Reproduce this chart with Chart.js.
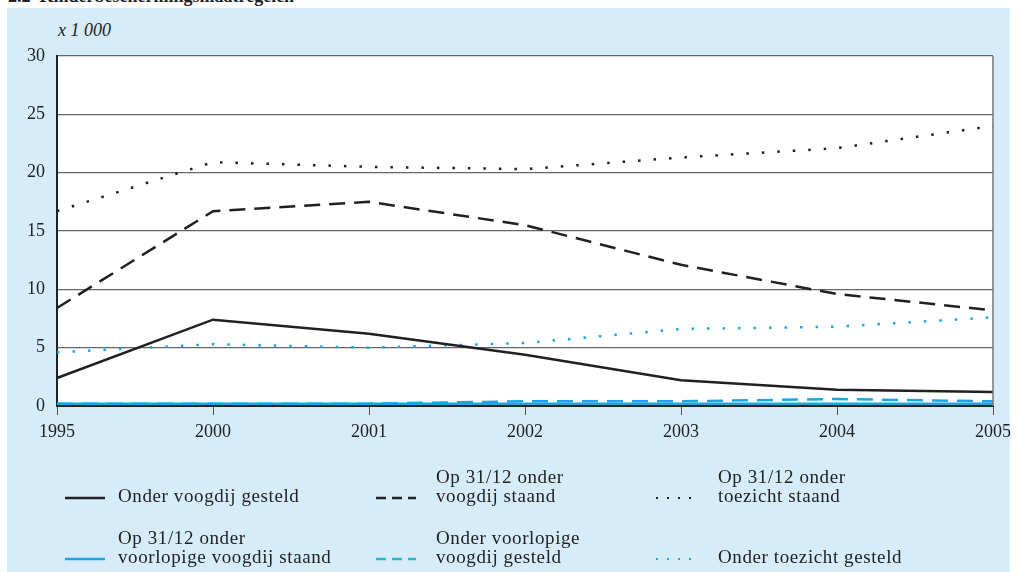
<!DOCTYPE html>
<html>
<head>
<meta charset="utf-8">
<script src="https://cdn.jsdelivr.net/npm/chart.js@4/dist/chart.umd.min.js"></script>
<style>
  html, body { margin: 0; padding: 0; background: #fff; }
  #wrap { position: relative; width: 1017px; height: 572px; overflow: hidden; font-family: "Liberation Serif", serif; color: #222; }
  #panel { position: absolute; left: 7px; top: 8px; width: 1003px; height: 564px; background: #d6ecf9; }
  #title { position: absolute; left: 8px; top: -14px; font-size: 18px; font-weight: bold; white-space: nowrap; }
  #unit { position: absolute; left: 58px; top: 20px; font-size: 18px; font-style: italic; }
  #chartBox { position: absolute; left: 0; top: 0; width: 1017px; height: 445px; }
  .leg { position: absolute; left: 0; top: 0; width: 1017px; height: 572px; font-size: 19px; line-height: 19px; letter-spacing: 0.6px; }
  .leg .txt { position: absolute; white-space: nowrap; }
  .leg canvas { position: absolute; }
</style>
</head>
<body>
<div id="wrap">
  <div id="panel"></div>
  <div id="title">2.2&nbsp;&nbsp;Kinderbeschermingsmaatregelen</div>
  <div id="unit">x 1 000</div>
  <div id="chartBox"><canvas id="chart"></canvas></div>
  <div id="legend"></div>
</div>
<script>
const years = ["1995", "2000", "2001", "2002", "2003", "2004", "2005"];

const onderVoogdijGesteld = [2.4, 7.4, 6.2, 4.4, 2.2, 1.4, 1.2];
const voogdijStaand = [8.4, 16.7, 17.5, 15.5, 12.1, 9.6, 8.2];
const toezichtStaand = [16.7, 20.9, 20.5, 20.3, 21.3, 22.1, 24.0];
const voorlopigeVoogdijStaand = [0.2, 0.2, 0.2, 0.2, 0.2, 0.2, 0.2];
const voorlopigeVoogdijGesteld = [0.2, 0.2, 0.2, 0.4, 0.4, 0.6, 0.4];
const onderToezichtGesteld = [4.6, 5.3, 5.0, 5.4, 6.6, 6.8, 7.6];

const yTicks = [0, 5, 10, 15, 20, 25, 30];

const black = "#231f20";
const blue = "#16a8e6";
const teal = "#2bb6c9";

const series = [
  { label: ["Onder voogdij gesteld"], data: onderVoogdijGesteld, color: black, dash: [], width: 2.5, legendColor: black },
  { label: ["Op 31/12 onder", "voogdij staand"], data: voogdijStaand, color: black, dash: [16, 9], width: 2.5, legendColor: black },
  { label: ["Op 31/12 onder", "toezicht staand"], data: toezichtStaand, color: black, dash: [2.5, 13], width: 2.5, legendColor: black },
  { label: ["Op 31/12 onder", "voorlopige voogdij staand"], data: voorlopigeVoogdijStaand, color: blue, dash: [], width: 2.5, legendColor: blue },
  { label: ["Onder voorlopige", "voogdij gesteld"], data: voorlopigeVoogdijGesteld, color: blue, dash: [16, 9], width: 2.5, legendColor: teal },
  { label: ["Onder toezicht gesteld"], data: onderToezichtGesteld, color: blue, dash: [2.5, 13], width: 2.5, legendColor: blue },
];

const plotFrame = {
  id: "plotFrame",
  beforeDraw(chart) {
    const { ctx, chartArea: a } = chart;
    ctx.save();
    ctx.fillStyle = "#fff";
    ctx.fillRect(a.left, a.top, a.right - a.left, a.bottom - a.top);
    ctx.restore();
  },
  afterDraw(chart) {
    const { ctx, chartArea: a } = chart;
    ctx.save();
    ctx.strokeStyle = "#777";
    ctx.lineWidth = 1.5;
    ctx.beginPath();
    ctx.moveTo(a.right, a.top);
    ctx.lineTo(a.right, a.bottom);
    ctx.stroke();
    ctx.restore();
  },
};

const chart = new Chart(document.getElementById("chart"), {
  type: "line",
  data: {
    labels: years,
    datasets: series.map((s) => ({
      label: s.label.join(" "),
      data: s.data,
      borderColor: s.color,
      borderWidth: s.width,
      borderDash: s.dash,
      borderCapStyle: "butt",
      pointRadius: 0,
      tension: 0,
      fill: false,
    })),
  },
  options: {
    responsive: true,
    maintainAspectRatio: false,
    animation: false,
    layout: { padding: { top: 56, right: 23, left: 0, bottom: 0 } },
    plugins: {
      legend: { display: false },
      tooltip: { enabled: false },
    },
    scales: {
      x: {
        offset: false,
        grid: { drawOnChartArea: false, drawTicks: true, tickLength: 9, color: "#555" },
        border: { display: true, color: "#222", width: 2 },
        ticks: { color: "#222", font: { family: "Liberation Serif", size: 18 }, padding: 6, maxRotation: 0, autoSkip: false },
        afterFit(scale) { scale.height = 39; },
      },
      y: {
        min: 0,
        max: 30,
        afterBuildTicks(scale) { scale.ticks = yTicks.map((v) => ({ value: v })); },
        grid: { color: "#666", lineWidth: 1.2, drawTicks: false },
        border: { display: true, color: "#222", width: 2 },
        ticks: { color: "#222", font: { family: "Liberation Serif", size: 18 }, padding: 12 },
        afterFit(scale) { scale.width = 57; },
      },
    },
  },
  plugins: [plotFrame],
});

// legend: 3 columns, 2 rows, samples drawn as small canvases
const legendDiv = document.getElementById("legend");
const colX = [65, 376, 656];
const textX = [118, 436, 718];
const rowBottom = [505, 566];
series.forEach((s, i) => {
  const col = i % 3;
  const row = Math.floor(i / 3);
  const item = document.createElement("div");
  item.className = "leg";
  const txt = document.createElement("div");
  txt.className = "txt";
  txt.innerHTML = s.label.join("<br>");
  txt.style.left = textX[col] + "px";
  txt.style.bottom = (572 - rowBottom[row]) + "px";
  const c = document.createElement("canvas");
  c.width = 46;
  c.height = 6;
  c.style.left = colX[col] + "px";
  c.style.top = (rowBottom[row] - 10) + "px";
  const g = c.getContext("2d");
  const dotted = s.dash.length && s.dash[0] < 5;
  g.strokeStyle = s.legendColor;
  g.lineWidth = dotted ? 2 : 2.5;
  g.setLineDash(s.dash.length ? (dotted ? [2, 9] : [10, 6]) : []);
  g.beginPath();
  g.moveTo(0, 3);
  g.lineTo(40, 3);
  g.stroke();
  item.appendChild(c);
  item.appendChild(txt);
  legendDiv.appendChild(item);
});
</script>
</body>
</html>
